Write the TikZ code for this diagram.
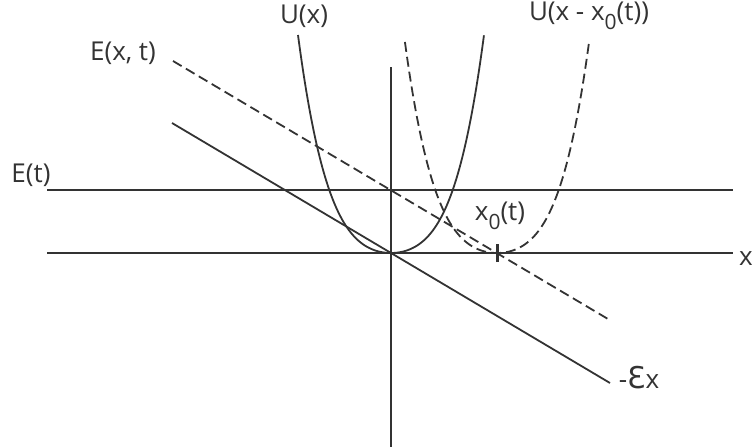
\documentclass[tikz,border=0pt]{standalone}
\usepackage{fontspec}
\setmainfont{Open Sans}
\newfontfamily\symfont{DejaVu Sans}
\definecolor{ink}{HTML}{333333}
\tikzset{
  curve/.style={draw=ink, line width=1.8pt},
  dashcurve/.style={curve, dash pattern=on 10pt off 5pt},
  lbl/.style={text=ink, inner sep=0pt, font=\fontsize{26}{30}\selectfont},
}
\newcommand{\subz}{\raisebox{-9pt}{\fontsize{21}{21}\selectfont 0}}
\begin{document}
\begin{tikzpicture}[x=1pt, y=-1pt]
\useasboundingbox (0,0) rectangle (756,447);
% coordinates
\coordinate (O) at (391,253);
\coordinate (vtop) at (391,67);
\coordinate (vbot) at (391,447);
\coordinate (xl) at (47,253);
\coordinate (xr) at (733,253);
\coordinate (el) at (47,190);
\coordinate (er) at (733,190);
\coordinate (sl) at (172,123);
\coordinate (sr) at (610,383);
\coordinate (dl) at (173,61);
\coordinate (dr) at (608,319);
\coordinate (x0) at (497,253);
% axes and lines
\draw[curve] (vtop) -- (vbot);
\draw[curve] (xl) -- (xr);
\draw[curve] (el) -- (er);
\draw[curve] (sl) -- (sr);
\draw[dashcurve] (dl) -- (dr);
% potentials
\draw[curve] plot[domain=-1:1, samples=161, smooth] ({391+93*\x}, {253-84.2*\x*\x-133.8*\x*\x*\x*\x});
\draw[dashcurve] plot[domain=-0.99:0.99, samples=161, smooth] ({497+93*\x}, {253-84.2*\x*\x-133.8*\x*\x*\x*\x});
% tick
\draw[draw=ink, line width=3pt] ([yshift=-9pt]x0) -- ([yshift=9pt]x0);
% labels
\node[lbl] (lU) at (304,16) {U(x)};
\node[lbl] (lU0) at (589,16) {U(x - x\subz(t))};
\node[lbl] (lExt) at (123,53) {E(x, t)};
\node[lbl] (lEt) at (31,175) {E(t)};
\node[lbl] (lx0) at (500,216) {x\subz(t)};
\node[lbl] (leps) at (639,378) {-{\symfont\fontsize{30}{30}\selectfont Ɛ}x};
\node[lbl] (lx) at (746,259) {x};
\end{tikzpicture}
\end{document}
